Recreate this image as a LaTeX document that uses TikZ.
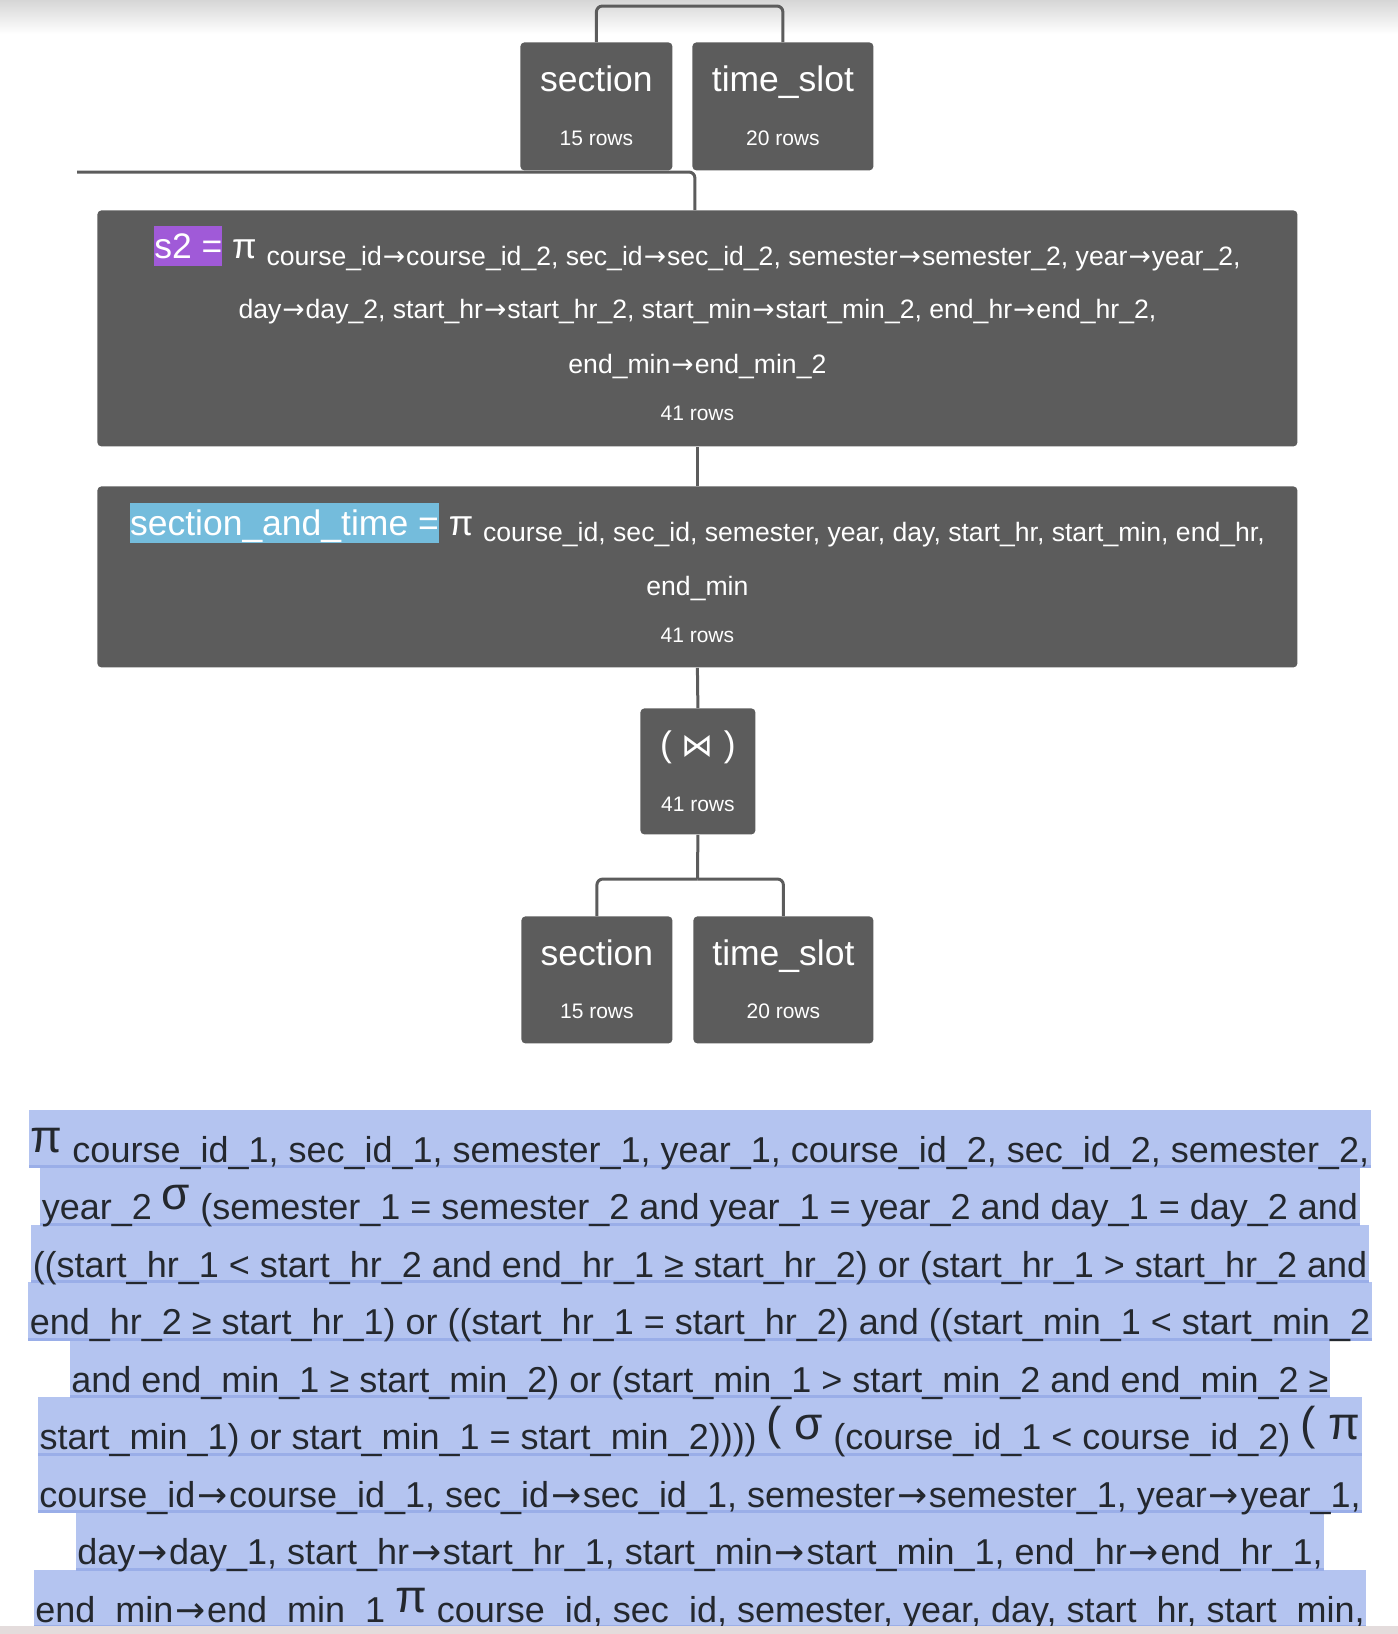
\documentclass[tikz,border=0pt]{standalone}
\usepackage{fontspec}
\setmainfont{Liberation Sans}
\newfontfamily\symfont{DejaVu Sans}
\usetikzlibrary{backgrounds}

\definecolor{boxgray}{HTML}{5C5C5C}
\definecolor{hlviolet}{HTML}{A05AD8}
\definecolor{hlblue}{HTML}{74BCDC}
\definecolor{selblue}{HTML}{B4C4F0}
\definecolor{seldark}{HTML}{9AAEE8}
\definecolor{inkdark}{HTML}{24282E}
\definecolor{barpink}{HTML}{E4DCDC}

\newcommand\titlefs{\fontsize{17.75}{21}\selectfont}
\newcommand\subfs{\fontsize{13.3}{16}\selectfont}
\newcommand\rowfs{\fontsize{10.5}{12}\selectfont}
\newcommand\opfs{\fontsize{23}{27}\selectfont}
\newcommand\txtfs{\fontsize{18}{21}\selectfont}
\newcommand\ar{\kern0.5pt{\symfont →}\kern0.5pt}
\newcommand\arB{\kern1pt{\symfont →}\kern0.75pt}
\newcommand\hl[2]{{\setlength\fboxsep{0pt}\colorbox{#1}{\rule[-0.212em]{0pt}{1.117em}#2}}}
\newcommand\lowered[1]{\raisebox{-3.25pt}{\subfs #1}}
\newcommand\bop[1]{\raisebox{5pt}{\opfs #1}}

\begin{document}
\begin{tikzpicture}[x=0.5pt,y=-0.5pt,
		mybox/.style={rectangle,fill=boxgray,rounded corners=2pt,inner sep=0pt,anchor=north west},
		mylink/.style={draw=boxgray,line width=1.5pt,rounded corners=3pt},
		mytitle/.style={text=white,inner sep=0pt,anchor=base,font=\titlefs},
		mysub/.style={text=white,inner sep=0pt,anchor=base,font=\subfs},
		myrows/.style={text=white,inner sep=0pt,anchor=base,font=\rowfs},
		myline/.style={text=inkdark,inner xsep=0.5pt,inner ysep=0pt,text height=26pt,text depth=3pt,anchor=base,font=\txtfs}]
		\useasboundingbox (0,0) rectangle (1398,1634);
		\shade[top color=black!16,bottom color=white] (0,0) rectangle (1398,34);
		\coordinate (topbar) at (690,6);
		\coordinate (leftend) at (77,172);
		\coordinate (forkB) at (697.5,879);
		\node(secA)[mybox,minimum width=76pt,minimum height=64pt] at (520,42) {};
		\node(tsA)[mybox,minimum width=90.5pt,minimum height=64pt] at (692,42) {};
		\node(sTwo)[mybox,minimum width=600pt,minimum height=118pt] at (97,210) {};
		\node(sat)[mybox,minimum width=600pt,minimum height=90.5pt] at (97,486) {};
		\node(join)[mybox,minimum width=57.5pt,minimum height=63pt] at (640,708) {};
		\node(secB)[mybox,minimum width=75.5pt,minimum height=63.5pt] at (521,916) {};
		\node(tsB)[mybox,minimum width=90pt,minimum height=63.5pt] at (693,916) {};
		\node(secAname)[mytitle] at ([yshift=-24.5pt]secA.north) {section};
		\node(secArows)[myrows] at ([yshift=-51.5pt]secA.north) {15 rows};
		\node(tsAname)[mytitle] at ([yshift=-24.5pt]tsA.north) {time\_slot};
		\node(tsArows)[myrows] at ([yshift=-51.5pt]tsA.north) {20 rows};
		\node(sTwoA)[mytitle] at ([yshift=-24.25pt]sTwo.north) {\hl{hlviolet}{s2 =} π \lowered{course\_id\ar course\_id\_2, sec\_id\ar sec\_id\_2, semester\ar semester\_2, year\ar year\_2,}};
		\node(sTwoB)[mysub] at ([yshift=-54pt]sTwo.north) {day\ar day\_2, start\_hr\ar start\_hr\_2, start\_min\ar start\_min\_2, end\_hr\ar end\_hr\_2,};
		\node(sTwoC)[mysub] at ([yshift=-81.5pt]sTwo.north) {end\_min\ar end\_min\_2};
		\node(sTwoRows)[myrows] at ([yshift=-105pt]sTwo.north) {41 rows};
		\node(satA)[mytitle] at ([yshift=-24.5pt]sat.north) {\hl{hlblue}{section\_and\_time =} π \lowered{course\_id, sec\_id, semester, year, day, start\_hr, start\_min, end\_hr,}};
		\node(satB)[mysub] at ([yshift=-54.5pt]sat.north) {end\_min};
		\node(satRows)[myrows] at ([yshift=-78pt]sat.north) {41 rows};
		\node(joinOp)[mytitle] at ([yshift=-24pt]join.north) {( {\symfont\fontsize{16}{18}\selectfont ⋈} )};
		\node(joinRows)[myrows] at ([yshift=-51.5pt]join.north) {41 rows};
		\node(secBname)[mytitle] at ([yshift=-24.5pt]secB.north) {section};
		\node(secBrows)[myrows] at ([yshift=-51pt]secB.north) {15 rows};
		\node(tsBname)[mytitle] at ([yshift=-24.5pt]tsB.north) {time\_slot};
		\node(tsBrows)[myrows] at ([yshift=-51pt]tsB.north) {20 rows};
		\draw[mylink] (secA.north) |- (topbar) -| (tsA.north);
		\draw[mylink] ([xshift=-1.25pt]sTwo.north) |- (leftend);
		\draw[mylink] (sTwo.south) -- (sat.north);
		\draw[mylink] (sat.south) -- (join.north);
		\draw[mylink] (join.south) -- (forkB);
		\draw[mylink] (forkB) -| (secB.north);
		\draw[mylink] (forkB) -| (tsB.north);
		\node(lnA)[myline] at (700,1162) {\bop{π} course\_id\_1, sec\_id\_1, semester\_1, year\_1, course\_id\_2, sec\_id\_2, semester\_2,};
		\node(lnB)[myline] at (700,1219.5) {year\_2 \bop{σ} (semester\_1 = semester\_2 and year\_1 = year\_2 and day\_1 = day\_2 and};
		\node(lnC)[myline] at (700,1277) {((start\_hr\_1 < start\_hr\_2 and end\_hr\_1 ≥ start\_hr\_2) or (start\_hr\_1 > start\_hr\_2 and};
		\node(lnD)[myline] at (700,1334.5) {end\_hr\_2 ≥ start\_hr\_1) or ((start\_hr\_1 = start\_hr\_2) and ((start\_min\_1 < start\_min\_2};
		\node(lnE)[myline] at (700,1392) {and end\_min\_1 ≥ start\_min\_2) or (start\_min\_1 > start\_min\_2 and end\_min\_2 ≥};
		\node(lnF)[myline] at (700,1449.5) {start\_min\_1) or start\_min\_1 = start\_min\_2)))) \bop{( σ} (course\_id\_1 < course\_id\_2) \bop{( π}};
		\node(lnG)[myline] at (700,1507) {course\_id\arB course\_id\_1, sec\_id\arB sec\_id\_1, semester\arB semester\_1, year\arB year\_1,};
		\node(lnH)[myline] at (700,1564.5) {day\arB day\_1, start\_hr\arB start\_hr\_1, start\_min\arB start\_min\_1, end\_hr\arB end\_hr\_1,};
		\node(lnI)[myline] at (700,1622) {end\_min\arB end\_min\_1 \bop{π} course\_id, sec\_id, semester, year, day, start\_hr, start\_min,};
		\begin{scope}[on background layer]
			\foreach \ln in {lnA,lnB,lnC,lnD,lnE,lnF,lnG,lnH,lnI}
				\fill[selblue] (\ln.north west) rectangle (\ln.south east);
			\foreach \ln in {lnA,lnB,lnC,lnD,lnE,lnF,lnG,lnH,lnI}
				\fill[seldark] ([yshift=1.5pt]\ln.south west) rectangle (\ln.south east);
		\end{scope}
		\fill[barpink] (0,1626) rectangle (1398,1634);
	\end{tikzpicture}
\end{document}
